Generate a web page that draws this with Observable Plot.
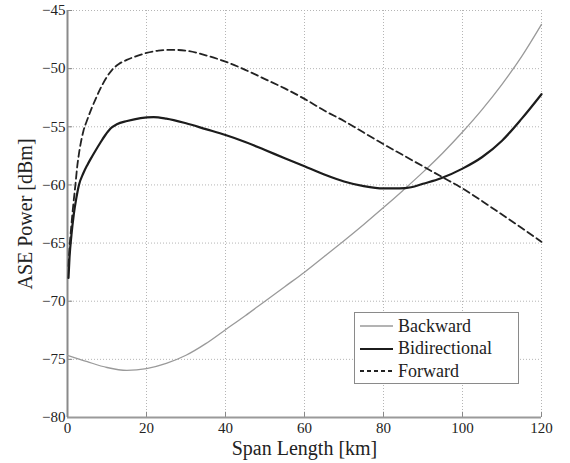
<!DOCTYPE html>
<html>
<head>
<meta charset="utf-8">
<script src="https://cdn.jsdelivr.net/npm/d3@7"></script>
<script src="https://cdn.jsdelivr.net/npm/@observablehq/plot@0.6"></script>
<style>
  html, body { margin: 0; padding: 0; background: #fff; }
  #wrap { position: relative; width: 570px; height: 463px; }
  #wrap, #wrap svg, #wrap svg text, #legend, #legend span {
    font-family: "Liberation Serif", "Times New Roman", Times, "DejaVu Serif", serif !important;
  }
  #legend { position: absolute; left: 354px; top: 312px; width: 163px; height: 70px; border: 1px solid #8a8a8a; background: #fff; box-sizing: content-box; }
  #legend .row { position: absolute; left: 0; height: 22px; display: flex; align-items: center; font-size: 18px; color: #222; }
  #legend svg { margin-left: 5px; margin-right: 5px; }
</style>
</head>
<body>
<div id="wrap"></div>
<script>
const xTicks = [0, 20, 40, 60, 80, 100, 120];
const yTicks = [-80, -75, -70, -65, -60, -55, -50, -45];

const backwardKm  = [0, 5, 10, 15, 20, 25, 30, 35, 40, 45, 50, 55, 60, 65, 70, 75, 80, 85, 90, 95, 100, 105, 110, 115, 120];
const backwardDbm = [-74.65, -75.2, -75.7, -75.95, -75.8, -75.35, -74.65, -73.65, -72.45, -71.25, -70.0, -68.75, -67.5, -66.15, -64.8, -63.4, -61.95, -60.45, -58.9, -57.25, -55.45, -53.5, -51.35, -48.95, -46.2];

const bidirKm  = [0.25, 0.5, 1, 1.6, 2.2, 2.9, 4, 5, 5.8, 7, 8.35, 9.5, 10.9, 12.5, 15.1, 18.5, 21.8, 25, 30, 35, 40, 45, 50, 55, 60, 65, 70, 75, 80, 84, 87, 90, 94.4, 100, 105, 110, 115, 120];
const bidirDbm = [-68.0, -66.3, -64.3, -62.5, -61.2, -60.0, -59.0, -58.3, -57.8, -57.1, -56.35, -55.75, -55.15, -54.78, -54.5, -54.25, -54.17, -54.3, -54.7, -55.2, -55.7, -56.3, -57.0, -57.7, -58.4, -59.1, -59.7, -60.1, -60.3, -60.3, -60.2, -59.9, -59.45, -58.6, -57.6, -56.2, -54.3, -52.2];

const forwardKm  = [0.25, 0.5, 1, 1.5, 2, 2.5, 3, 4, 5, 6, 7, 8.35, 10, 11.3, 13, 15, 17, 20, 23, 26, 30, 35, 40, 45, 50, 55, 60, 65, 70, 75, 80, 85, 90, 95, 100, 105, 110, 115, 120];
const forwardDbm = [-67.0, -65.5, -63.4, -61.6, -60.0, -58.3, -57.1, -55.4, -54.4, -53.5, -52.7, -51.7, -50.7, -50.1, -49.6, -49.25, -48.98, -48.65, -48.45, -48.38, -48.45, -48.85, -49.4, -50.1, -50.9, -51.7, -52.6, -53.6, -54.5, -55.5, -56.5, -57.45, -58.4, -59.35, -60.3, -61.4, -62.55, -63.7, -64.9];

const seriesNames = ["Backward", "Bidirectional", "Forward"];
const seriesStyle = {
  Backward:      {stroke: "#9a9a9a", strokeWidth: 1.3, dash: null},
  Bidirectional: {stroke: "#1c1c1c", strokeWidth: 2.2, dash: null},
  Forward:       {stroke: "#222222", strokeWidth: 1.8, dash: "7,4"}
};

const rows = (name, xs, ys) => xs.map((x, i) => ({series: name, km: x, dbm: ys[i]}));
const backward = rows("Backward", backwardKm, backwardDbm);
const bidir = rows("Bidirectional", bidirKm, bidirDbm);
const forward = rows("Forward", forwardKm, forwardDbm);

const lineMark = (data, name) => Plot.line(data, {
  x: "km", y: "dbm", curve: "monotone-x",
  stroke: seriesStyle[name].stroke,
  strokeWidth: seriesStyle[name].strokeWidth,
  strokeDasharray: seriesStyle[name].dash
});

const serif = "'Liberation Serif', 'Times New Roman', Times, 'DejaVu Serif', serif";

const chart = Plot.plot({
  width: 570,
  height: 463,
  marginLeft: 67,
  marginRight: 29,
  marginTop: 10,
  marginBottom: 46,
  style: {fontFamily: serif, background: "#fff", color: "#222"},
  x: {domain: [0, 120]},
  y: {domain: [-80, -45]},
  marks: [
    Plot.gridX(xTicks, {stroke: "#b5b5b5", strokeOpacity: 1, strokeDasharray: "1,2"}),
    Plot.gridY(yTicks, {stroke: "#b5b5b5", strokeOpacity: 1, strokeDasharray: "1,2"}),
    Plot.ruleX(xTicks, {y1: -80, y2: -79.55, stroke: "#888", strokeWidth: 1}),
    Plot.ruleY(yTicks, {x1: 0, x2: 1.3, stroke: "#888", strokeWidth: 1}),
    Plot.ruleY([-80], {stroke: "#9a9a9a", strokeWidth: 2}),
    Plot.ruleX([0], {stroke: "#8a8a8a", strokeWidth: 2}),
    lineMark(backward, "Backward"),
    lineMark(bidir, "Bidirectional"),
    lineMark(forward, "Forward"),
    Plot.axisX(xTicks, {tickSize: 0, tickPadding: 5, fontSize: 15, label: null, fill: "#222", fontFamily: serif}),
    Plot.axisY(yTicks, {tickSize: 0, tickPadding: 2, fontSize: 15, label: null, fill: "#222", fontFamily: serif}),
    Plot.text(["Span Length [km]"], {frameAnchor: "bottom", lineAnchor: "middle", textAnchor: "middle", dy: 31, fontSize: 20, fill: "#222", fontFamily: serif}),
    Plot.text(["ASE Power [dBm]"], {frameAnchor: "left", lineAnchor: "middle", textAnchor: "middle", rotate: -90, dx: -42, fontSize: 20, fill: "#222", fontFamily: serif})
  ]
});

const wrap = document.getElementById("wrap");
wrap.appendChild(chart);

// Legend (HTML, same series styles)
const legend = document.createElement("div");
legend.id = "legend";
seriesNames.forEach((name, i) => {
  const s = seriesStyle[name];
  const row = document.createElement("div");
  row.className = "row";
  row.style.top = (2 + i * 22.5) + "px";
  row.innerHTML = `<svg width="33" height="10"><line x1="0" x2="33" y1="5" y2="5" stroke="${s.stroke}" stroke-width="${s.strokeWidth}" ${s.dash ? `stroke-dasharray="4,3"` : ""}/></svg><span>${name}</span>`;
  legend.appendChild(row);
});
wrap.appendChild(legend);
</script>
</body>
</html>
